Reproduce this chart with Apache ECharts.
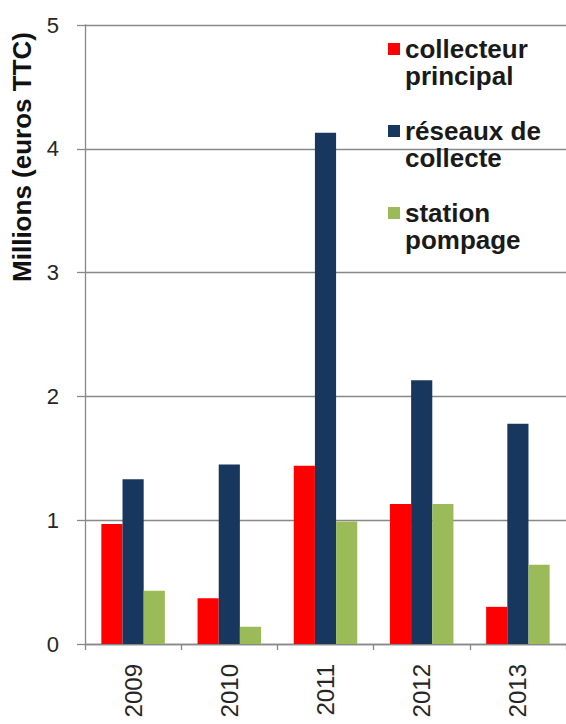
<!DOCTYPE html>
<html>
<head>
<meta charset="utf-8">
<script src="https://cdn.jsdelivr.net/npm/echarts@6/dist/echarts.min.js"></script>
<title>Investissements assainissement</title>
</head>
<body style="margin: 0">
<div id="container" style="width: 566px; height: 724px"></div>
<script type="text/javascript">

    // years and amounts in millions of euros TTC
    let years = ['2009', '2010', '2011', '2012', '2013'];
    let collecteur = [0.97, 0.37, 1.44, 1.13, 0.30];
    let reseaux = [1.33, 1.45, 4.13, 2.13, 1.78];
    let station = [0.43, 0.14, 0.99, 1.13, 0.64];
    let seriesNames = ['collecteur\nprincipal', 'réseaux de\ncollecte', 'station\npompage'];

    let font = 'Liberation Sans, Arial, sans-serif';
    let gray = '#888888';

    let chart = echarts.init(document.getElementById('container'), null, {renderer: 'svg'});

    function bar(name, data, color) {
        return {
            name: name,
            type: 'bar',
            data: data,
            barGap: '0%',
            barCategoryGap: '34%',
            itemStyle: {color: color}
        };
    }

    chart.setOption({
        animation: false,
        grid: {left: 85, top: 25, width: 488, height: 619},
        legend: {
            orient: 'vertical',
            left: 388,
            top: 8.5,
            padding: 0,
            itemGap: 1,
            itemWidth: 12,
            itemHeight: 12,
            icon: 'rect',
            // blank first line so the marker sits beside the first line of the name
            formatter: name => '\n' + name,
            textStyle: {
                fontFamily: font,
                fontSize: 26,
                fontWeight: 'bold',
                lineHeight: 27,
                color: '#1a1a1a'
            },
            data: seriesNames
        },
        graphic: [{
            type: 'text',
            x: 22,
            y: 157,
            rotation: Math.PI / 2,
            style: {
                text: 'Millions (euros TTC)',
                fontFamily: font,
                fontSize: 26,
                fontWeight: 'bold',
                fill: '#111111',
                align: 'center',
                verticalAlign: 'middle'
            }
        }],
        xAxis: {
            type: 'category',
            data: years,
            axisLine: {lineStyle: {color: gray, width: 1.3}},
            axisTick: {show: true, length: 6, lineStyle: {color: gray, width: 1.3}},
            axisLabel: {
                rotate: 90,
                margin: 20,
                fontFamily: font,
                fontSize: 24,
                color: '#262626'
            }
        },
        yAxis: {
            type: 'value',
            min: 0,
            max: 5,
            interval: 1,
            axisLine: {show: true, lineStyle: {color: gray, width: 1.3}},
            axisTick: {show: true, length: 8, lineStyle: {color: gray, width: 1.3}},
            axisLabel: {
                margin: 26,
                fontFamily: font,
                fontSize: 22,
                color: '#262626'
            },
            splitLine: {lineStyle: {color: gray, width: 1.3}}
        },
        series: [
            bar(seriesNames[0], collecteur, '#ff0000'),
            bar(seriesNames[1], reseaux, '#17375e'),
            bar(seriesNames[2], station, '#9bbb59')
        ]
    });

</script>
</body>
</html>
